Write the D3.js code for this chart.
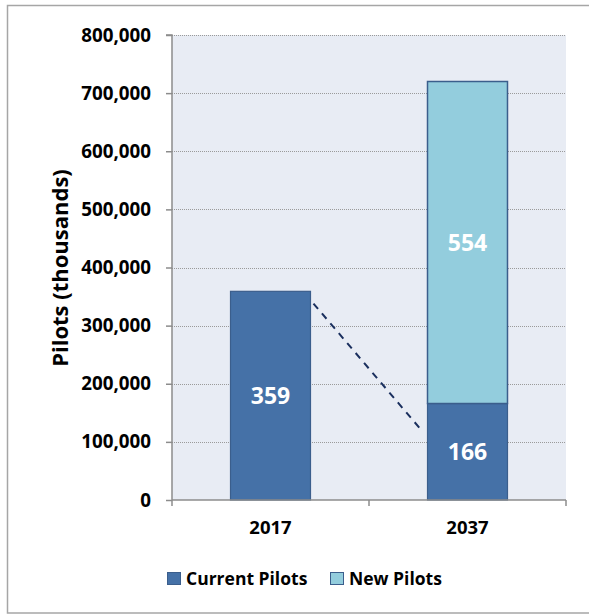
<!DOCTYPE html>
<html><head><meta charset="utf-8">
<script src="https://cdn.jsdelivr.net/npm/d3@7"></script>
<style>body{margin:0;background:#fff;} svg{display:block;font-family:"Open Sans",Lato,sans-serif;}</style>
</head><body><svg id="c" width="589" height="615"></svg>
<script>
const categories = ["2017", "2037"];
const currentPilots = [359000, 166000];
const newPilots = [0, 554000];
const yTicks = [0, 100000, 200000, 300000, 400000, 500000, 600000, 700000, 800000];
const seriesNames = ["Current Pilots", "New Pilots"];
const seriesColors = ["#4571A7", "#93CDDD"];
const transitionLine = [338000, 124000]; // dashed line: value at 2017 bar edge -> value at 2037 bar edge

const FONT = "'Open Sans',Lato,sans-serif";
const svg = d3.select("#c");
const m = {l:172, r:566, t:35, b:500};
const x = d3.scaleBand().domain(categories).range([m.l, m.r]).paddingInner(0.594).paddingOuter(0.297);
const y = d3.scaleLinear().domain([0, 800000]).range([m.b, m.t]);

// outer frame
svg.append("rect").attr("x",7.5).attr("y",5.5).attr("width",600).attr("height",607.5)
  .attr("fill","none").attr("stroke","#A6A6A6").attr("stroke-width",1.5);

// plot background
svg.append("rect").attr("x",m.l).attr("y",m.t).attr("width",m.r-m.l).attr("height",m.b-m.t).attr("fill","#E8ECF4");

// gridlines
svg.append("g").selectAll("line").data(yTicks.filter(d=>d>0)).join("line")
  .attr("x1",m.l).attr("x2",m.r).attr("y1",d=>Math.round(y(d))+0.5).attr("y2",d=>Math.round(y(d))+0.5)
  .attr("stroke","#9A9A9A").attr("stroke-width",1).attr("stroke-dasharray","1,1");

// bars
const stack = categories.map((c,i)=>({c, cur: currentPilots[i], nw: newPilots[i]}));
const g = svg.append("g");
g.selectAll("rect.cur").data(stack).join("rect").attr("class","cur")
  .attr("x",d=>x(d.c)).attr("width",x.bandwidth())
  .attr("y",d=>y(d.cur)).attr("height",d=>y(0)-y(d.cur))
  .attr("fill",seriesColors[0]).attr("stroke","#3B5E8C").attr("stroke-width",1.2);
g.selectAll("rect.nw").data(stack.filter(d=>d.nw>0)).join("rect").attr("class","nw")
  .attr("x",d=>x(d.c)).attr("width",x.bandwidth())
  .attr("y",d=>y(d.cur+d.nw)).attr("height",d=>y(d.cur)-y(d.cur+d.nw))
  .attr("fill",seriesColors[1]).attr("stroke","#3B5E8C").attr("stroke-width",1.5);

// bar labels
const fmt = d=>Math.round(d/1000);
g.selectAll("text.cl").data(stack).join("text").attr("class","cl")
  .attr("x",d=>x(d.c)+x.bandwidth()/2).attr("y",d=>y(d.cur/2)).attr("dy","0.36em")
  .attr("text-anchor","middle").attr("fill","#fff").attr("font-weight","bold").attr("font-size",23)
  .text(d=>fmt(d.cur));
g.selectAll("text.nl").data(stack.filter(d=>d.nw>0)).join("text").attr("class","nl")
  .attr("x",d=>x(d.c)+x.bandwidth()/2).attr("y",d=>y(d.cur+d.nw/2)).attr("dy","0.36em")
  .attr("text-anchor","middle").attr("fill","#fff").attr("font-weight","bold").attr("font-size",23)
  .text(d=>fmt(d.nw));

// dashed line
svg.append("line")
  .attr("x1",x(categories[0])+x.bandwidth()+3).attr("y1",y(transitionLine[0]))
  .attr("x2",x(categories[1])-8).attr("y2",y(transitionLine[1]))
  .attr("stroke","#1A2F5E").attr("stroke-width",2).attr("stroke-dasharray","7,6");

// y axis
const ya = svg.append("g").attr("transform",`translate(${m.l},0)`)
  .call(d3.axisLeft(y).tickValues(yTicks).tickSize(6).tickPadding(15).tickFormat(d3.format(",")));
ya.select(".domain").attr("stroke","#8C8C8C").attr("stroke-width",1.5).attr("d",`M-6,${m.t}H0V${m.b}`);
ya.selectAll(".tick line").attr("stroke","#8C8C8C").attr("stroke-width",1.5);
ya.selectAll("text").attr("font-family",FONT).attr("font-weight","bold").attr("font-size",18.8).attr("fill","#000");

// x axis
const xa = svg.append("g").attr("transform",`translate(0,${m.b})`)
  .call(d3.axisBottom(x).tickSize(0).tickPadding(21));
xa.select(".domain").attr("stroke","#8C8C8C").attr("stroke-width",1.5).attr("d",`M${m.l},0H${m.r}`);
xa.selectAll("text").attr("font-family",FONT).attr("font-weight","bold").attr("font-size",18.5).attr("fill","#000");
const xTickPos = [m.l, (m.l+m.r)/2, m.r];
svg.append("g").selectAll("line").data(xTickPos).join("line")
  .attr("x1",d=>d).attr("x2",d=>d).attr("y1",m.b).attr("y2",m.b+6)
  .attr("stroke","#8C8C8C").attr("stroke-width",1.5);

// y title
svg.append("text").attr("transform",`translate(68,268) rotate(-90)`)
  .attr("text-anchor","middle").attr("font-weight","bold").attr("font-size",22).attr("fill","#000")
  .text("Pilots (thousands)");

// legend
const lg = svg.append("g");
const legX = [167, 330];
seriesNames.forEach((n,i)=>{
  lg.append("rect").attr("x",legX[i]+0.5).attr("y",572.5).attr("width",13).attr("height",12)
    .attr("fill",seriesColors[i]).attr("stroke","#3B5E8C").attr("stroke-width",1);
  lg.append("text").attr("x",legX[i]+19).attr("y",578.5).attr("dy","0.36em")
    .attr("font-weight","bold").attr("font-size",17.5).attr("fill","#000").text(n);
});
</script></body></html>
